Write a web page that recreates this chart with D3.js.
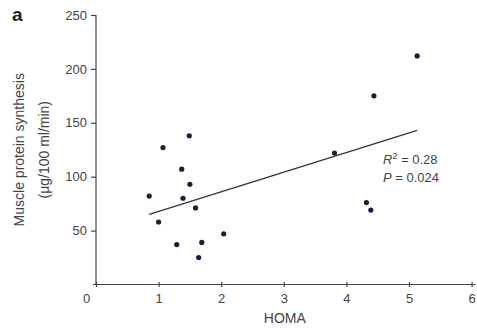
<!DOCTYPE html>
<html>
<head>
<meta charset="utf-8">
<script src="https://cdn.jsdelivr.net/npm/d3@7"></script>
<style>
  body { margin: 0; background: #fff; }
  svg { display: block; font-family: "Liberation Sans", Arial, sans-serif; }
  .axis path, .axis line { stroke: #444; stroke-width: 1.2; }
  .axis text { fill: #444; font-size: 13px; }
</style>
</head>
<body>
<svg id="chart"></svg>
<script>
// data
let homa = [0.85, 1.07, 1.49, 1.37, 1.50, 1.39, 1.59, 1.00, 1.29, 1.69, 1.64, 2.04, 5.13, 4.44, 3.81, 4.32, 4.39];
let mps = [82, 127, 138, 107, 93, 80, 71, 58, 37, 39, 25, 47, 212, 175, 122, 76, 69];
let fitX = [0.85, 5.13];
let fitY = [65, 143];
let xTicks = [0, 1, 2, 3, 4, 5, 6];
let yTicks = [50, 100, 150, 200, 250];

let width = 477, height = 328;
let svg = d3.select('#chart').attr('width', width).attr('height', height);

let xScale = d3.scaleLinear().domain([0, 6]).range([96, 471.6]);
let yScale = d3.scaleLinear().domain([0, 250]).range([284.5, 15]);

// y axis
let yAxis = svg.append('g')
  .attr('class', 'axis')
  .attr('transform', `translate(${xScale(0)},0)`)
  .call(d3.axisLeft(yScale).tickValues(yTicks).tickFormat(d3.format('d'))
    .tickSize(5).tickSizeOuter(0).tickPadding(4));
yAxis.select('.domain').attr('d', `M0,${yScale(0)}V${yScale(250)}`);

// x axis
let xAxis = svg.append('g')
  .attr('class', 'axis')
  .attr('transform', `translate(0,${yScale(0)})`)
  .call(d3.axisBottom(xScale).tickValues(xTicks).tickFormat(d3.format('d')).tickSizeOuter(0));
xAxis.select('.domain').attr('d', `M${xScale(0) - 3},0H${xScale(6) + 4}`);
xAxis.selectAll('.tick line').attr('y1', -2.5).attr('y2', 2.5);
xAxis.selectAll('.tick text')
  .attr('y', 9)
  .attr('dy', '0.71em')
  .attr('dx', d => d === 0 ? -10 : 0);

// regression line
svg.append('line')
  .attr('x1', xScale(fitX[0])).attr('y1', yScale(fitY[0]))
  .attr('x2', xScale(fitX[1])).attr('y2', yScale(fitY[1]))
  .attr('stroke', '#333')
  .attr('stroke-width', 1.3);

// points
svg.selectAll('.pt')
  .data(homa)
  .enter()
  .append('circle')
  .attr('class', 'pt')
  .attr('cx', d => xScale(d))
  .attr('cy', (d, i) => yScale(mps[i]))
  .attr('r', 2.6)
  .attr('fill', '#1c1c3c');

// axis titles
svg.append('text')
  .attr('x', (xScale(0) + xScale(6)) / 2 + 1)
  .attr('y', 323)
  .attr('text-anchor', 'middle')
  .attr('font-size', 14)
  .attr('fill', '#444')
  .text('HOMA');

let yTitle = svg.append('text')
  .attr('transform', `translate(24,${yScale(125)}) rotate(-90)`)
  .attr('text-anchor', 'middle')
  .attr('font-size', 14)
  .attr('fill', '#444');
yTitle.append('tspan').attr('x', 0).attr('dy', 0).text('Muscle protein synthesis');
yTitle.append('tspan').attr('x', 0).attr('dy', 25).text('(\u03bcg/100 ml/min)');

// stats
let stats = svg.append('g').attr('font-size', 13).attr('fill', '#444');
let r2 = stats.append('text').attr('x', 383).attr('y', 164);
r2.append('tspan').attr('font-style', 'italic').text('R');
r2.append('tspan').attr('font-size', 9).attr('dy', -5).text('2');
r2.append('tspan').attr('dy', 5).text(' = 0.28');
let p = stats.append('text').attr('x', 383).attr('y', 182);
p.append('tspan').attr('font-style', 'italic').text('P');
p.append('tspan').text(' = 0.024');

// panel letter
svg.append('text')
  .attr('x', 12).attr('y', 21)
  .attr('font-size', 19)
  .attr('font-weight', 'bold')
  .attr('fill', '#222')
  .text('a');
</script>
</body>
</html>
